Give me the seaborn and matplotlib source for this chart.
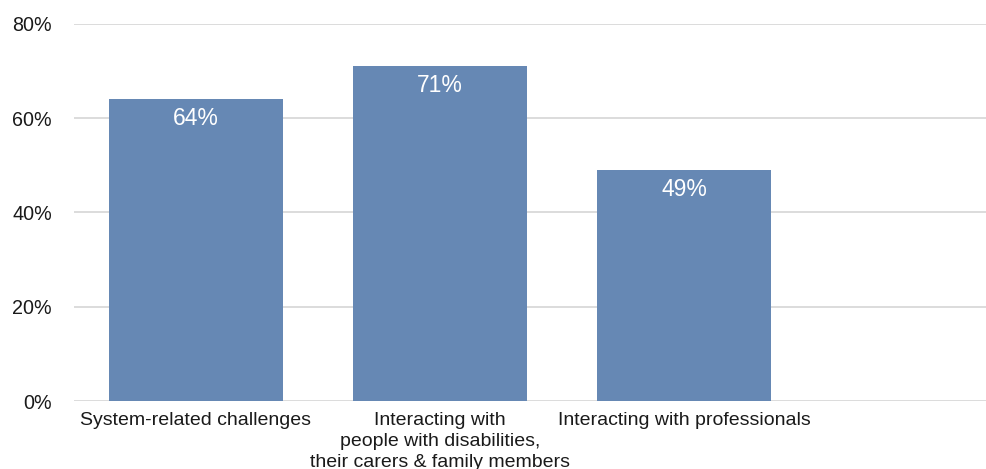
import matplotlib
matplotlib.use("Agg")
import matplotlib.pyplot as plt
import seaborn as sns
import pandas as pd

categories = [
    "System-related challenges",
    "Interacting with\npeople with disabilities,\ntheir carers & family members",
    "Interacting with professionals",
    "",
]
values = [64, 71, 49, None]
value_labels = ["64%", "71%", "49%", None]
y_ticks = [0, 20, 40, 60, 80]
y_tick_labels = ["0%", "20%", "40%", "60%", "80%"]

sns.set_theme(style="white")
plt.rcParams["font.family"] = ["Liberation Sans", "DejaVu Sans"]

df = pd.DataFrame({"category": categories, "value": [v if v is not None else 0 for v in values]})

fig = plt.figure(figsize=(9.87, 4.69), dpi=100)
ax = fig.add_axes([74 / 987, 1 - 401 / 469, (987 - 74) / 987, (401 - 24) / 469])

sns.barplot(data=df, x="category", y="value", color="#6688b4", width=0.713,
            saturation=1, linewidth=0, ax=ax, zorder=3)

ax.set_ylim(0, 80)
ax.set_xlim(-0.5, 3.242)
ax.set_yticks(y_ticks)
ax.set_yticklabels(y_tick_labels, fontsize=14.2, color="#1a1a1a")
ax.yaxis.grid(True, color="#d9d9d9", linewidth=1.3, zorder=0)
ax.set_axisbelow(True)
ax.tick_params(axis="y", length=0, pad=16)
ax.tick_params(axis="x", length=0, pad=8)
for lbl in ax.get_yticklabels():
    lbl.set_horizontalalignment("right")
ax.set_xticks(range(len(categories)))
ax.set_xticklabels(categories, fontsize=14, color="#1a1a1a", linespacing=1.32)
ax.set_xlabel("")
ax.set_ylabel("")
for s in ax.spines.values():
    s.set_visible(False)

for i, (v, t) in enumerate(zip(values, value_labels)):
    if v is None:
        continue
    ax.text(i, v - 1.7, t, ha="center", va="top", color="white", fontsize=16.5)

fig.savefig("out.png", dpi=100)
